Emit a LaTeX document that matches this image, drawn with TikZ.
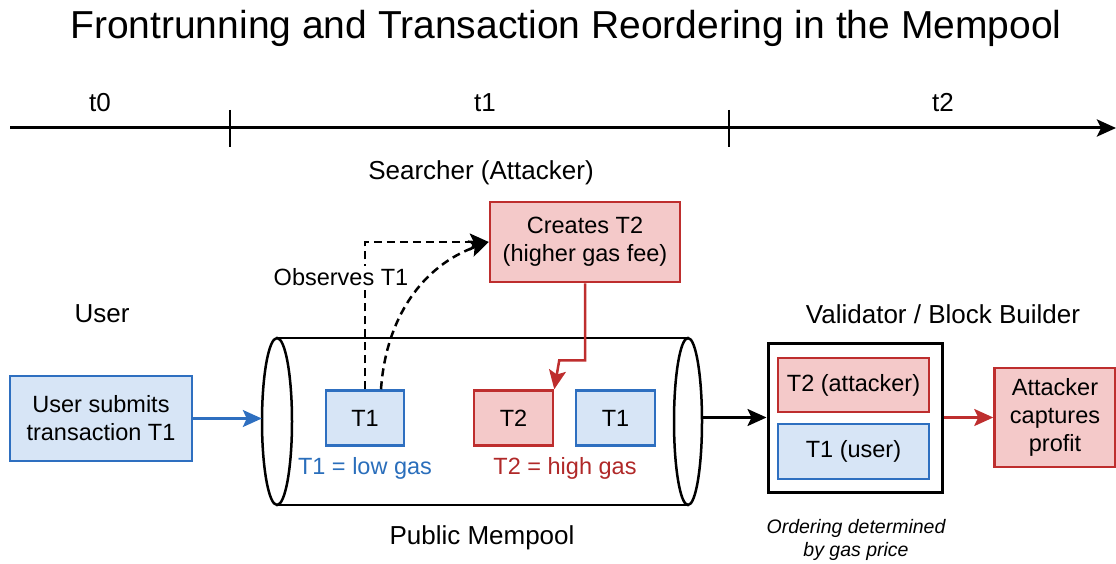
\documentclass[tikz,border=0pt]{standalone}
\usepackage{fontspec}
\setmainfont{Liberation Sans}
\usetikzlibrary{arrows.meta,calc}
\definecolor{bfill}{HTML}{D7E5F6}
\definecolor{bline}{HTML}{2E6FC0}
\definecolor{rfill}{HTML}{F4C9C9}
\definecolor{rline}{HTML}{BE2E2E}
\definecolor{btext}{HTML}{2A6EBB}
\definecolor{rtext}{HTML}{B02828}
\tikzset{
  lbl/.style={font=\fontsize{26}{30}\selectfont, align=center, inner sep=0pt},
  sub/.style={font=\fontsize{23.5}{28}\selectfont, align=center, inner sep=0pt},
  bluebox/.style={draw=bline, fill=bfill, line width=2.5pt, align=center, inner sep=0pt, font=\fontsize{23.5}{28}\selectfont},
  redbox/.style={draw=rline, fill=rfill, line width=2.5pt, align=center, inner sep=0pt, font=\fontsize{23.5}{28}\selectfont},
  tip/.style={-{Stealth[length=19pt,width=17pt,inset=4pt]}},
}
\begin{document}
\begin{tikzpicture}[x=1pt,y=-1pt]
\useasboundingbox (0,0) rectangle (1116,564);
% title
\node[inner sep=0pt, font=\fontsize{39}{44}\selectfont] (title) at (566,28) {Frontrunning and Transaction Reordering in the Mempool};
% timeline
\coordinate (tl0) at (10,128);
\coordinate (tl1) at (1116,128);
\draw[line width=3pt, -{Stealth[length=19pt,width=17pt,inset=4pt]}] (tl0) -- (tl1);
\draw[line width=2pt] (230,110) -- (230,147);
\draw[line width=2pt] (729,110) -- (729,147);
\node[lbl] (t0) at (100,103) {t0};
\node[lbl] (t1) at (485,103) {t1};
\node[lbl] (t2) at (943,103) {t2};
% headings
\node[lbl] (searcher) at (481,173) {Searcher (Attacker)};
\node[lbl] (userlbl) at (102,314) {User};
\node[lbl] (vallbl) at (943,314) {Validator / Block Builder};
\node[lbl] (mplbl) at (482,538) {Public Mempool};
\node[lbl, font=\itshape\fontsize{19.5}{23}\selectfont] (order) at (856,540) {Ordering determined\\by gas price};
% creates T2
\node[redbox, minimum width=190, minimum height=80] (cr) at (585,242) {Creates T2\\(higher gas fee)};
% user box
\node[bluebox, minimum width=182, minimum height=85] (user) at (101,418.5) {User submits\\transaction T1};
% mempool cylinder
\node[minimum width=440, minimum height=167, inner sep=0pt] (mp) at (482,421.5) {};
\draw[line width=2.5pt] (277,338) -- (688,338);
\draw[line width=2.5pt] (277,505) -- (688,505);
\draw[line width=2.5pt, fill=white] (277,421.5) ellipse [x radius=15, y radius=83.5];
\draw[line width=2.5pt, fill=white] (688,421.5) ellipse [x radius=14, y radius=83.5];
% mempool transactions
\node[bluebox, minimum width=78, minimum height=55] (T1a) at (365,418) {T1};
\node[redbox, minimum width=79, minimum height=55] (T2a) at (513.5,418) {T2};
\node[bluebox, minimum width=79, minimum height=55] (T1b) at (615.5,418) {T1};
\node[sub, text=btext] (lowgas) at (365,468) {T1 = low gas};
\node[sub, text=rtext] (highgas) at (565,468) {T2 = high gas};
% validator
\node[draw, line width=3pt, minimum width=174, minimum height=149, inner sep=0pt] (val) at (855,417.5) {};
\node[redbox, minimum width=151, minimum height=54] (T2v) at (853.5,385) {T2 (attacker)};
\node[bluebox, minimum width=151, minimum height=55] (T1v) at (853.5,451.5) {T1 (user)};
% attacker profit
\node[redbox, minimum width=121, minimum height=99] (prof) at (1055,417.5) {Attacker\\captures\\profit};
% connectors
\draw[bline, line width=2.5pt, tip] (user.east) -- (user.east -| mp.west);
\draw[line width=2.5pt, tip] (mp.east |- val.west) -- (val.west);
\draw[rline, line width=2.5pt, tip] (val.east) -- (val.east -| prof.west);
\draw[line width=2.5pt, dash pattern=on 8pt off 5pt, tip] (T1a.north) |- (cr.west);
\draw[line width=2.5pt, dash pattern=on 8pt off 5pt, tip] ([xshift=16pt]T1a.north) to[out=86, in=200] (cr.west);
\node[sub, fill=white, inner sep=2pt] (obs) at (341,277) {Observes T1};
\draw[rline, line width=2.5pt, tip] (cr.south) |- ($(T2a.north east)+(5,-29)$) -- (T2a.north east);
\end{tikzpicture}
\end{document}
